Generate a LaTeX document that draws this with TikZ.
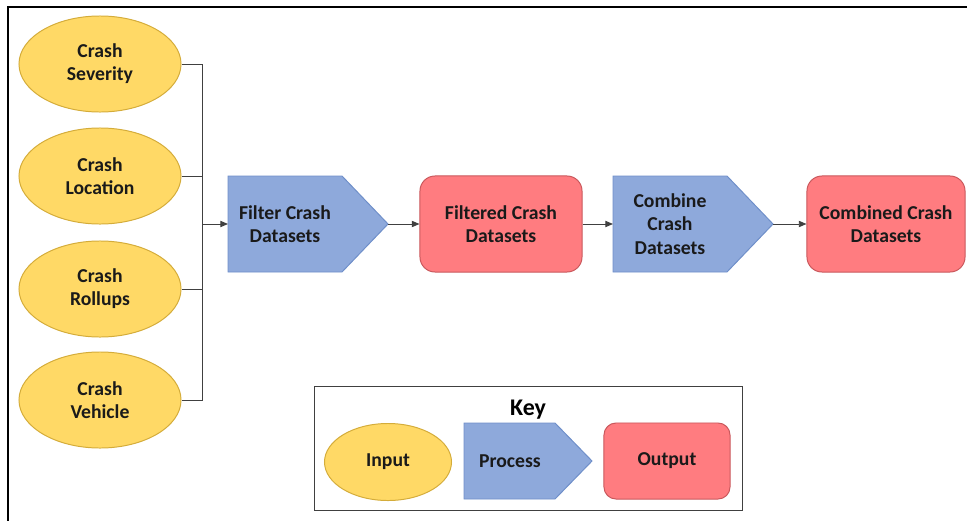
\documentclass[tikz,border=0pt]{standalone}
\usepackage{fontspec}
\setmainfont{Carlito}
\usetikzlibrary{shapes.geometric,arrows.meta}
\definecolor{inyellow}{HTML}{FFD966}
\definecolor{inborder}{HTML}{D4AC3A}
\definecolor{procblue}{HTML}{8EA9DB}
\definecolor{procborder}{HTML}{6F8FC9}
\definecolor{outred}{HTML}{FF7C80}
\definecolor{outborder}{HTML}{C9585C}
\definecolor{txt}{HTML}{1A1A1A}
\definecolor{linegray}{HTML}{404040}
\tikzset{
  lbl/.style={font=\fontsize{14}{16.5}\selectfont\bfseries, text=txt, align=center},
  inputnode/.style={ellipse, lbl, fill=inyellow, draw=inborder, line width=0.7pt, inner sep=0pt,
    minimum width=4.05cm, minimum height=2.4cm},
  outputnode/.style={rectangle, lbl, fill=outred, draw=outborder, line width=0.7pt, inner sep=0pt,
    rounded corners=0.375cm, minimum width=4.05cm, minimum height=2.4cm},
  procshape/.style={fill=procblue, draw=procborder, line width=0.7pt},
  proctext/.style={lbl, inner sep=0pt},
  conn/.style={draw=linegray, line width=0.7pt},
  arr/.style={conn, -{Triangle[length=5.5pt,width=4.5pt]}},
}
\begin{document}
\begin{tikzpicture}[x=0.025cm,y=-0.025cm]
\useasboundingbox (0,0) rectangle (967,520);
% outer frame (top and left edges)
\draw[line width=1.6pt, black] (8,521) -- (8,7) -- (968,7);

% inputs
\node[inputnode] (e1) at (100,64) {Crash\\Severity};
\node[inputnode] (e2) at (100,176) {Crash\\Location};
\node[inputnode] (e3) at (100,289) {Crash\\Rollups};
\node[inputnode] (e4) at (100,400) {Crash\\Vehicle};
\coordinate (j) at (202,224);

% process 1
\draw[procshape] (228,176) -- (342,176) -- (388,224) -- (342,272) -- (228,272) -- cycle;
\coordinate (p1w) at (228,224);
\coordinate (p1e) at (388,224);
\node[proctext] (p1) at (285,224) {Filter Crash\\Datasets};

% output 1
\node[outputnode] (o1) at (501,224) {Filtered Crash\\Datasets};

% process 2
\draw[procshape] (613,176) -- (727,176) -- (773,224) -- (727,272) -- (613,272) -- cycle;
\coordinate (p2w) at (613,224);
\coordinate (p2e) at (773,224);
\node[proctext] (p2) at (670,224) {Combine\\Crash\\Datasets};

% output 2
\node[outputnode, minimum width=3.95cm] (o2) at (886,224) {Combined Crash\\Datasets};

% connectors
\draw[conn] (e1.east) -- (e1.east -| j) -- (e4.east -| j) -- (e4.east);
\draw[conn] (e2.east) -- (e2.east -| j);
\draw[conn] (e3.east) -- (e3.east -| j);
\draw[arr] (j) -- (p1w);
\draw[arr] (p1e) -- (o1.west);
\draw[arr] (o1.east) -- (p2w);
\draw[arr] (p2e) -- (o2.west);

% key
\node[draw=linegray, line width=0.7pt, minimum width=10.675cm, minimum height=3.075cm, inner sep=0pt] (key) at (528.5,448.5) {};
\node[lbl, font=\fontsize{17}{20}\selectfont\bfseries, text=black] (keytitle) at (528,410) {Key};
\node[inputnode, minimum width=3.175cm, minimum height=1.925cm] (kin) at (388,462) {Input};
\draw[procshape] (464,423) -- (555,423) -- (592,461) -- (555,499) -- (464,499) -- cycle;
\node[proctext] (kproc) at (510,461) {Process};
\node[outputnode, minimum width=3.15cm, minimum height=1.9cm, rounded corners=0.3cm] (kout) at (667,461) {Output};
\end{tikzpicture}
\end{document}
